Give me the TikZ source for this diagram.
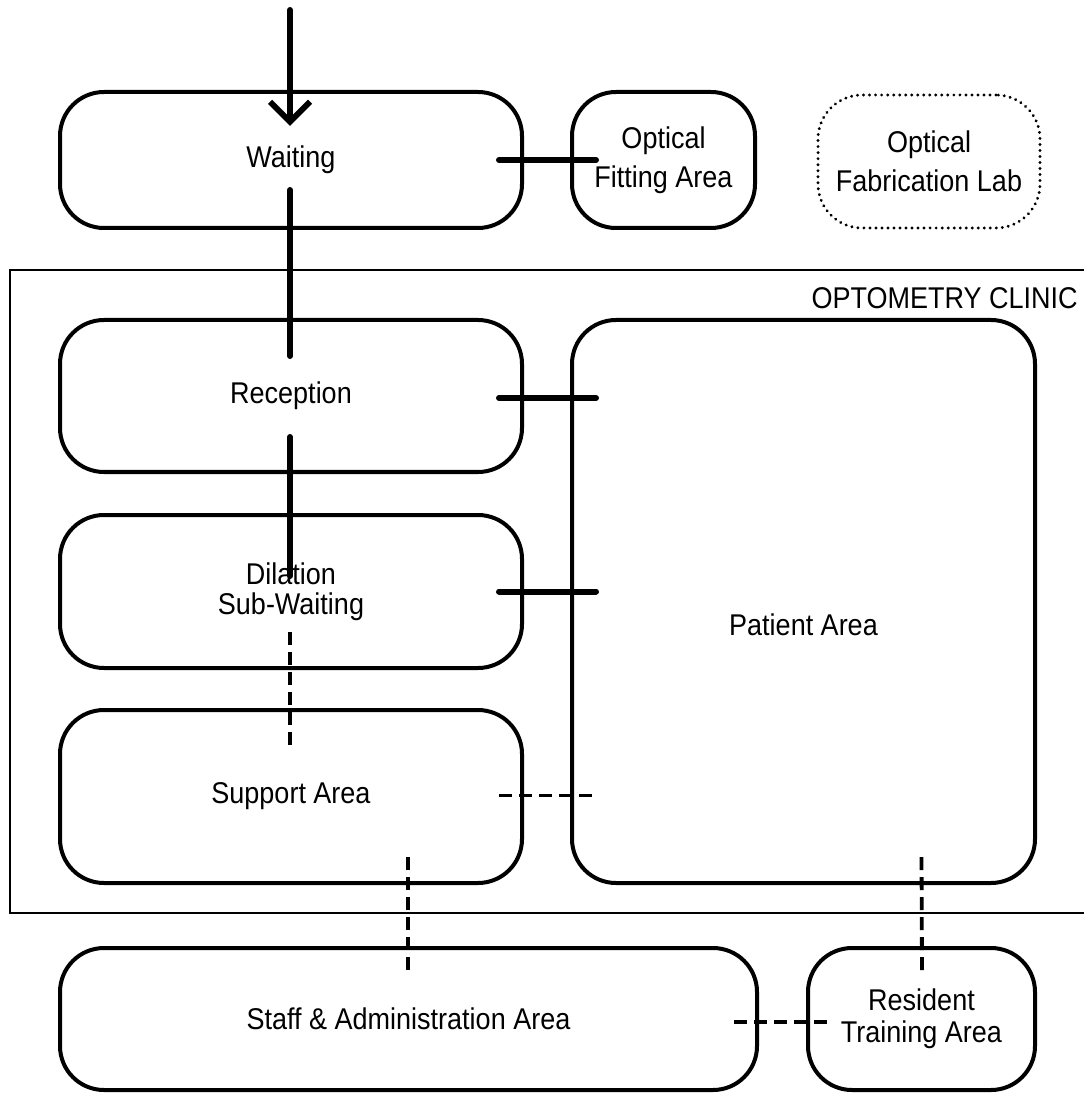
\documentclass[tikz,border=0pt]{standalone}
\usepackage{fontspec}
\setmainfont{Liberation Sans}[FakeStretch=0.9]
\usetikzlibrary{calc,arrows.meta}
\begin{document}
\begin{tikzpicture}[x=0.5pt,y=-0.5pt,
  area/.style={draw, line width=2pt, rounded corners=22pt, inner sep=0pt, align=center, font=\fontsize{15}{14.5}\selectfont},
  labarea/.style={area, dash pattern=on 0.01pt off 3pt, line cap=round, line width=1.6pt},
  solidlink/.style={line width=3pt, line cap=round},
  dashlink/.style={line width=1.9pt, dash pattern=on 6.5pt off 3.5pt},
  frame/.style={draw, line width=1pt}]
\useasboundingbox (0,0) rectangle (1083,1095);
% clinic frame
\draw[frame] (10,270) rectangle (1100,913);
\node[anchor=east, font=\fontsize{15}{17}\selectfont, inner sep=0pt] (cliniclabel) at (1078,298) {OPTOMETRY CLINIC};
% areas
\node[area, minimum width=231pt, minimum height=68pt] (waiting) at (291,160) {Waiting};
\node[area, minimum width=91.5pt, minimum height=68pt] (fitting) at (663.5,160) {Optical\\[5pt]Fitting Area};
\node[labarea, minimum width=111pt, minimum height=66.5pt] (fablab) at (929,161.5) {Optical\\[5pt]Fabrication Lab};
\node[area, minimum width=231pt, minimum height=76pt] (reception) at (291,396) {Reception};
\node[area, minimum width=231pt, minimum height=76.5pt] (dilation) at (291,591.5) {Dilation\\[0.5pt]Sub-Waiting};
\node[area, minimum width=231pt, minimum height=86.5pt] (support) at (291,796.5) {Support Area};
\node[area, minimum width=231.5pt, minimum height=281.5pt] (patient) at (803.5,601.5) {\raisebox{-17pt}[0pt][0pt]{Patient Area}};
\node[area, minimum width=348.5pt, minimum height=71pt] (staff) at (408.5,1019) {Staff \& Administration Area};
\node[area, minimum width=113.5pt, minimum height=71pt] (resident) at (921.5,1019) {Resident\\[1.5pt]Training Area};
\coordinate (entry) at (290,10);
% connectors
\draw[solidlink, -{Straight Barb[length=10pt,width=20pt]}] (entry) -- ($(waiting.north)+(-1,36)$);
\draw[solidlink] ($(waiting.south)+(-1,-40)$) -- ($(reception.north)+(-1,38)$);
\draw[solidlink] ($(waiting.east)+(-25,0)$) -- ($(fitting.west)+(26,0)$);
\draw[solidlink] ($(reception.east)+(-25,2)$) -- ($(patient.west)+(26,-203.5)$);
\draw[solidlink] ($(reception.south)+(-1,-37)$) -- ($(dilation.north)+(-1,63)$);
\draw[solidlink] ($(dilation.east)+(-25,0)$) -- ($(patient.west)+(26,-10)$);
\draw[dashlink] ($(dilation.south)+(-1,-38)$) -- ($(support.north)+(-1,40)$);
\draw[dashlink] ($(support.east)+(-25,-1)$) -- ($(patient.west)+(26,194)$);
\draw[dashlink] ($(support.south)+(117,-28)$) -- ($(staff.north)+(-0.5,27)$);
\draw[dashlink] ($(patient.south)+(118,-28)$) -- ($(resident.north)+(0.5,27)$);
\draw[dashlink] ($(staff.east)+(-25,3)$) -- ($(resident.west)+(27,3)$);
\end{tikzpicture}
\end{document}
